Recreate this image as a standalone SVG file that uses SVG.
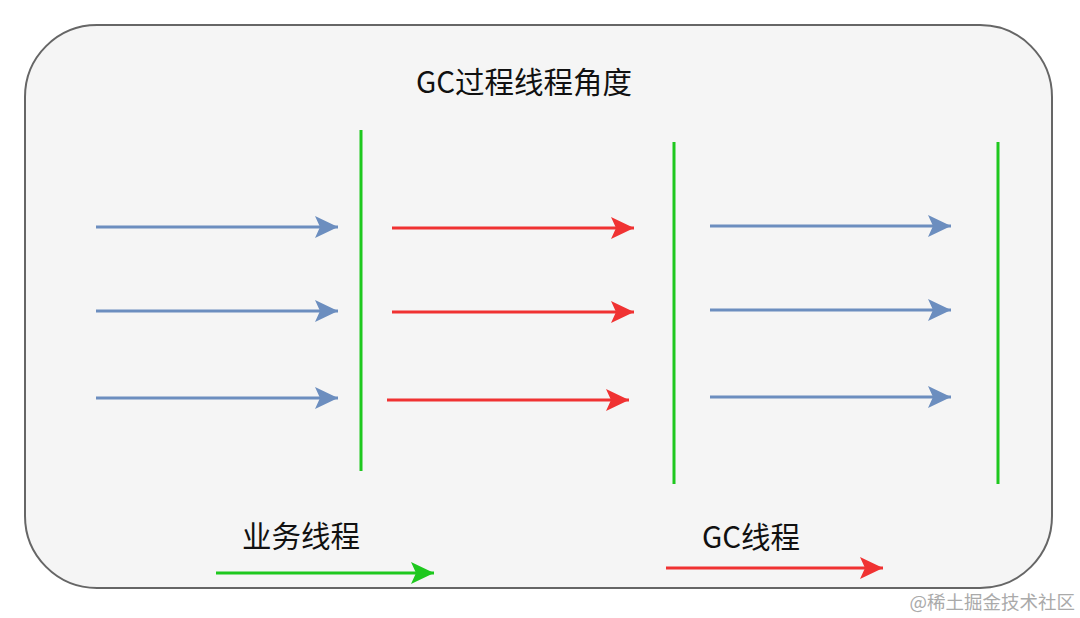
<svg xmlns="http://www.w3.org/2000/svg" width="1080" height="618" viewBox="0 0 1080 618">
<style>
text{font-family:"Noto Sans CJK SC","Noto Sans",sans-serif;fill:#111}
.b{stroke:#6c8ebf;stroke-width:3;fill:none}
.r{stroke:#f03232;stroke-width:3;fill:none}
.g{stroke:#1ec81e;stroke-width:3;fill:none}
</style>
<defs>
<marker id="mb" markerWidth="10" markerHeight="10" refX="9" refY="5" orient="auto" markerUnits="userSpaceOnUse" viewBox="0 0 10 10" overflow="visible"><path d="M-14,-6 L9,5 L-14,16 L-9,5 Z" fill="#6c8ebf"/></marker>
<marker id="mr" markerWidth="10" markerHeight="10" refX="9" refY="5" orient="auto" markerUnits="userSpaceOnUse" viewBox="0 0 10 10" overflow="visible"><path d="M-14,-6 L9,5 L-14,16 L-9,5 Z" fill="#f03232"/></marker>
<marker id="mg" markerWidth="10" markerHeight="10" refX="9" refY="5" orient="auto" markerUnits="userSpaceOnUse" viewBox="0 0 10 10" overflow="visible"><path d="M-14,-6 L9,5 L-14,16 L-9,5 Z" fill="#1ec81e"/></marker>
</defs>
<g id="container"><rect x="25" y="25" width="1027" height="563" rx="72" fill="#f5f5f5" stroke="#666" stroke-width="2"/></g>
<g id="title"><text x="524" y="93" font-size="29.5" text-anchor="middle">GC过程线程角度</text></g>
<g id="bars">
<line class="g" x1="361" y1="130" x2="361" y2="471"/>
<line class="g" x1="674" y1="142" x2="674" y2="484"/>
<line class="g" x1="998" y1="142" x2="998" y2="484"/>
</g>
<g id="connectors">
<line class="b" x1="96" y1="227" x2="338" y2="227" marker-end="url(#mb)"/>
<line class="b" x1="96" y1="311" x2="338" y2="311" marker-end="url(#mb)"/>
<line class="b" x1="96" y1="398" x2="338" y2="398" marker-end="url(#mb)"/>
<line class="r" x1="392" y1="228" x2="634" y2="228" marker-end="url(#mr)"/>
<line class="r" x1="392" y1="312" x2="634" y2="312" marker-end="url(#mr)"/>
<line class="r" x1="387" y1="400" x2="629" y2="400" marker-end="url(#mr)"/>
<line class="b" x1="710" y1="226" x2="951" y2="226" marker-end="url(#mb)"/>
<line class="b" x1="710" y1="310" x2="951" y2="310" marker-end="url(#mb)"/>
<line class="b" x1="710" y1="397" x2="951" y2="397" marker-end="url(#mb)"/>
<line class="g" x1="216" y1="573" x2="434" y2="573" marker-end="url(#mg)"/>
<line class="r" x1="666" y1="568" x2="883" y2="568" marker-end="url(#mr)"/>
</g>
<g id="legend">
<text x="301" y="547" font-size="29.5" text-anchor="middle">业务线程</text>
<text x="751" y="548" font-size="29.5" text-anchor="middle">GC线程</text>
</g>
<text x="1075" y="609" font-size="18.5" text-anchor="end" style="fill:#aaa">@稀土掘金技术社区</text>
</svg>
